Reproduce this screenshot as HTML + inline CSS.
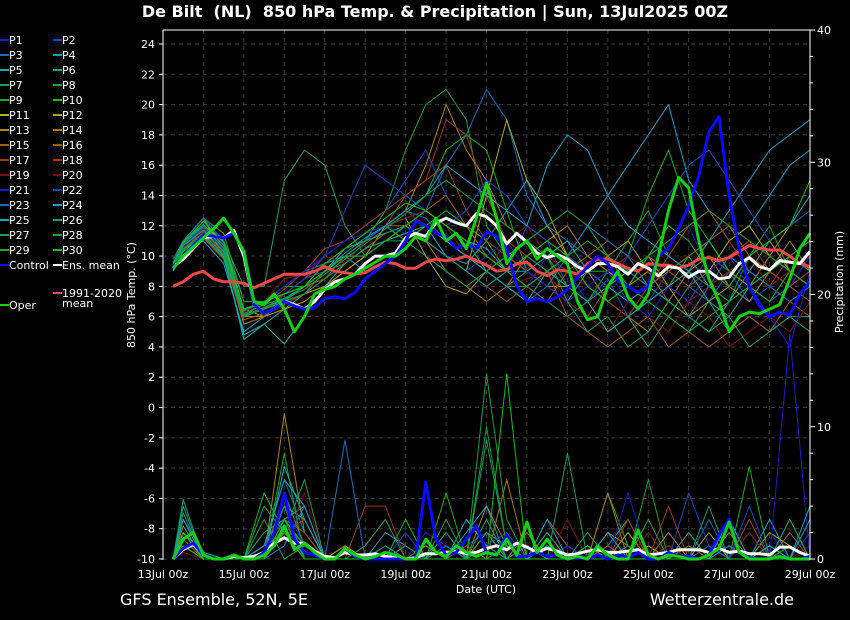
<!DOCTYPE html>
<html><head><meta charset="utf-8">
<style>
html,body{margin:0;padding:0;background:#000;}
svg{display:block;font-family:"DejaVu Sans","Liberation Sans",sans-serif;}
</style></head>
<body>
<svg id="chart" width="850" height="620" viewBox="0 0 850 620" xmlns="http://www.w3.org/2000/svg">
<rect x="0" y="0" width="850" height="620" fill="#000"/>
<text x="435" y="17" fill="#fff" font-size="16" font-weight="bold" text-anchor="middle" style="white-space:pre">De Bilt  (NL)  850 hPa Temp. &amp; Precipitation | Sun, 13Jul2025 00Z</text>
<g id="grid"></g>
<g id="series"></g>
<g id="axes"></g>
<g id="legend"></g>
<text x="135" y="295" fill="#fff" font-size="11" text-anchor="middle" transform="rotate(-90 135 295)">850 hPa Temp. (°C)</text>
<text x="843" y="282" fill="#fff" font-size="11" text-anchor="middle" transform="rotate(-90 843 282)">Precipitation (mm)</text>
<text x="486" y="593" fill="#fff" font-size="11" text-anchor="middle">Date (UTC)</text>
<text x="120" y="605" fill="#fff" font-size="16">GFS Ensemble, 52N, 5E</text>
<text x="794" y="605" fill="#fff" font-size="16" text-anchor="end">Wetterzentrale.de</text>
</svg>
<script>
const xTickLabels=["13Jul 00z","15Jul 00z","17Jul 00z","19Jul 00z","21Jul 00z","23Jul 00z","25Jul 00z","27Jul 00z","29Jul 00z"];
const yTicks=[24,22,20,18,16,14,12,10,8,6,4,2,0,-2,-4,-6,-8,-10];
const y2Ticks=[40,30,20,10,0];
const controlTemp=[9.3,10.0,10.7,11.4,11.3,11.2,11.5,10.3,6.8,6.2,6.5,7.0,6.7,6.5,6.6,7.2,7.3,7.2,7.6,8.5,9.0,9.5,10.0,11.0,12.3,12.0,11.5,11.3,10.5,10.8,10.5,11.6,11.3,10.5,8.0,7.0,7.2,7.0,7.3,7.8,8.6,9.3,10.0,9.5,8.4,8.0,7.6,8.0,10.0,10.5,11.8,13.3,15.3,18.2,19.2,14.0,10.5,8.0,6.7,6.0,6.3,6.1,7.5,8.3];
const operTemp=[9.2,10.0,10.6,11.2,11.8,12.5,11.5,10.3,7.0,6.8,7.5,6.5,5.0,6.0,7.5,7.8,8.0,8.5,8.8,9.2,9.6,10.0,10.0,10.5,11.3,11.0,12.5,11.0,11.5,10.5,12.5,14.8,12.5,9.5,10.5,11.0,9.8,10.5,10.0,9.5,7.0,5.8,6.0,8.0,9.0,7.3,6.5,7.5,10.0,13.0,15.2,14.5,11.0,8.5,7.0,5.0,6.0,6.3,6.2,6.5,6.8,8.5,10.5,11.5];
const meanTemp=[9.3,9.8,10.5,11.2,11.3,11.2,11.7,10.0,6.8,6.2,6.5,7.0,6.8,6.5,7.0,7.8,8.3,8.5,8.8,9.5,10.0,10.0,10.2,11.2,11.5,11.3,12.2,12.5,12.2,12.0,12.8,12.6,12.0,10.8,11.5,10.9,10.2,9.9,10.1,9.8,9.3,9.0,9.5,9.5,9.3,8.8,9.5,9.2,8.7,9.3,9.2,8.6,9.0,9.0,8.5,8.6,9.5,9.9,9.3,9.1,9.7,9.6,9.5,10.3];
const climTemp=[8.0,8.3,8.8,9.0,8.5,8.3,8.3,8.2,7.9,8.2,8.5,8.8,8.8,8.8,9.0,9.3,9.0,8.9,8.8,8.9,9.3,9.6,9.5,9.2,9.2,9.6,9.8,9.7,9.8,10.0,9.7,9.4,9.0,9.1,9.5,9.6,9.0,8.7,9.1,9.0,8.8,9.5,9.8,9.8,9.5,9.2,9.0,9.5,9.4,9.4,9.2,9.4,9.8,9.9,9.7,9.9,10.3,10.7,10.5,10.4,10.4,10.0,9.5,9.3];
const controlPrecip=[0,0.8,1.2,0.3,0,0,0.3,0,0,0.5,2,5,1.5,0.5,0.3,0,0,0.8,0.2,0,0,0,0,0,0,5.8,1.5,0.3,0.5,1.5,2.5,0.5,0.3,1.8,0.2,0.2,0.5,0.2,0.3,0,0.1,0,0.3,0,0.3,0.1,0.5,0,0,0.5,0.2,0.2,0,0.3,1.8,3,0.5,0.1,0,0,0.2,0,0,0.2];
const operPrecip=[0,1.5,2.0,0.3,0,0,0.3,0,0,0.3,1,2.5,0.7,1.2,0.5,0,0,0.8,0.3,0,0.2,0.5,0.3,0,0,1.5,0.5,0.2,1.0,0.5,0.2,0.5,0.3,1.5,0.3,2.8,0.5,1.5,0.3,0,0.2,0,1.0,0.3,0,0,2.2,0.3,0,0.3,0.2,0,0,0.3,0.8,2.8,0.5,0,0,0,0.2,0,0,0];
const meanPrecip=[0,0.7,1.1,0.3,0,0,0.2,0.1,0.2,0.5,1.2,1.6,1.2,1.2,0.6,0.2,0.1,0.5,0.3,0.3,0.4,0.2,0.1,0,0.1,0.4,0.4,0.5,0.6,0.4,0.5,0.8,1.0,0.7,1.2,0.9,0.5,0.8,0.6,0.3,0.4,0.6,0.7,0.5,0.5,0.6,0.7,0.3,0.4,0.5,0.7,0.7,0.7,0.5,0.8,0.5,0.6,0.4,0.4,0.3,0.9,0.9,0.5,0.2];
const memberNames=["P1","P2","P3","P4","P5","P6","P7","P8","P9","P10","P11","P12","P13","P14","P15","P16","P17","P18","P19","P20","P21","P22","P23","P24","P25","P26","P27","P28","P29","P30"];
const memberColors=["#1a1ad0","#1048c0","#1070c0","#10a0c8","#10b0b0","#10a080","#10a060","#10a040","#10b020","#10c010","#b0b000","#b8a000","#b08800","#b07800","#a06000","#a05800","#a04010","#a03810","#801010","#781010","#1a1ad0","#1048c0","#1070c0","#10a0c8","#10b0b0","#10a080","#10a060","#10a040","#10b020","#10c010"];
const memberTemp=[
[9.5,10.5,11.5,11,6,6.5,7,7.5,8.5,9.5,10.5,11,12,11,10,9,8,9,8,10,9,7,8,9,8,10,12,9,8,7,9,8,10],
[9,10,12,10,5.5,6,7.5,8.5,9,10,11,13,15,17,14,12,10,9,12,11,8,7,8.5,6,7,9,8,10,9,7,8,9,8],
[9.8,11,12.5,10.5,6,7,8,9,10,11,12,13,14,13,16,18,21,19,14,12,11,10,9,8,10,9,8,7,9,8,7,8,9],
[9.5,10.5,11,9.5,5,6,7,8,9,10,9,9.5,11,12,10,9.5,11,13,15,12,10,12,14,16,18,20,15,13,11,12,14,16,17],
[9.2,10,11.5,10,4.5,5.5,6.5,7.5,9,10.5,11.5,12,12.5,13,12,11,10.5,9,9,10,11,9,8,7,8,9,10,8,7,9,11,12,14],
[9,10.5,12,11,7,7,8,9,9.5,10,11,12,13,12,11,10,9,8,8,7,6,7,5,6,4,6,5,7,5,6,5,6,6],
[9.3,11,12,11,8,8,15,17,16,12,10,11,12,13,12,11,9,8,9,8,7,9,10,8,7,6,8,9,10,9,8,7,8],
[9.5,11,12.5,11.5,7,7,7.5,8,9,10,11,13,17,20,21,19,12,10,9,10,8,7,9,11,13,10,9,8,7,10,12,9,8],
[9.4,10.8,12.3,10.8,6.5,7,8,8,9,10,11,12,13,14,17,18,17,13,9,8,10,9,9,10,14,17,13,11,9,8,10,9,8],
[9.2,10.5,11.5,10,6,6.5,7,8,9.5,10.5,11,12,11,12,13,12,11,9,8,9,10,8,7,8,9,8,10,11,9,8,7,9,10],
[9.6,11,12,11,6.5,6,7,7.5,8,9,10,11,12,11,10,9,14,19,15,13,10,9,8,9,10,8,7,9,11,12,10,9,8],
[9.4,11,12.5,10,6,6,6.5,7,8,9,10,12,12.5,10,8,7.5,9,10,9,8,8,9,10,11,9,8,6,7,8,10,11,9,8],
[9.5,10.8,12,10.5,5.5,6,7,8,9,10,11,12,13,16,20,17,15,12,11,12,10,9,7,6,5,7,9,10,8,7,9,11,9],
[9.1,10.5,11.8,10,6,6.5,7,8,9,10,10,11,11.5,11,9,8,7,8,10,11,12,10,9,8,9,7,6,8,9,8,10,12,13],
[9.3,10.6,11.5,10,6,7,7.5,8,8.5,10,11,12,12,13,14,12,10,9,8,7,9,10,11,10,8,9,10,11,12,10,9,8,7],
[9.2,10.3,11.2,9.8,5.8,6.2,6.8,7.5,9,9.5,10.5,11.5,12,11,10,9,8,7,8,9,6,5,4,5,6,4,5,4,5,6,5,7,6],
[9.5,10.7,11.8,10.5,6,6.5,7.5,8.5,9.5,10.5,11.5,12,14,15,16,13,11,10,9,8,7,6,8,9,10,9,8,9,10,11,9,8,9],
[9.3,10.4,11.6,10.2,6.2,6.8,7.8,9,10.5,11,12,13,14,15,19,18,14,11,10,9,10,8,7,6,8,10,12,13,11,9,8,10,9],
[9.4,10.5,11.8,10.6,6.3,7,8.5,8.8,10,9.5,11,12,13,12,11,10,9,11,12,10,9,8,9,10,9,8,7,8,9,10,8,9,10],
[9.2,10.6,11.4,10.1,6,6.5,7,8,9,10,11,12,12.5,13,12,10,9,8,8.5,9,7,6,5,7,6,5,7,6,4,5,6,5,7],
[9.6,10.9,12,10.8,6.5,7,8,9,10,11,11.5,12,11.5,11,10,9,10,11,9,8,7,8,9,7,6,8,7,9,10,8,6,4,9],
[9.3,10.7,11.9,10.4,6.1,7,7.5,8.5,10,13,16,15,14,13,12,13,15,14,12,11,10,9,8,10,12,14,16,17,15,13,11,12,13],
[9.5,11,12.5,11,6,6.5,7,8,9,10,11,12,13,12.5,11,10,9,8,7,8,10,12,11,10,8,7,6,8,10,9,8,7,8],
[9.4,10.7,11.7,10.3,6.1,6.6,7.2,8,9,10.2,11.2,12,13,14,16,15,14,13,12,16,18,17,14,12,11,10,9,11,13,15,17,18,19],
[9.1,10.3,11.3,9.9,4.8,5.5,4.2,6,8,9.5,10.5,11,11.5,12,11,10,9,8,7,9,8,7,5,6,7,8,9,7,6,8,9,10,11],
[9.5,10.9,12.1,10.7,6.4,7,7.5,8,9,10,11,11.5,12,11,10,9,8,9,10,9,8,7,8,9,8,7,6,5,7,8,9,10,9],
[9.3,10.5,11.5,10,6,6.5,7,7.5,8.5,9.5,10.5,11,11,10,9,8,9,10,11,10,7,5,6,4,5,7,6,5,6,4,5,6,5],
[9.4,10.8,12,10.5,6.2,6.8,7.2,7.8,8.8,9.8,10.8,11.8,12.8,14,15,14,13,12,11,12,13,12,10,9,10,11,12,13,12,11,10,9,8],
[9.2,10.4,11.4,10.1,6.1,6.6,7.1,8,9,10,10,11,12,13,12,11,10,9,8,9,10,11,10,8,7,6,5,6,7,8,9,10,11],
[9.5,10.9,12.3,10.9,6.5,7,7.5,8,9.5,10.5,11.5,12.5,13.5,13,12,11,10,9,10,11,10,8,7,8,10,12,11,9,8,10,11,12,15]];
const memberPrecip=[
[0,1,0,0,0,1,2,0,0,0,0,1,0,2,1,0,0,1,0,3,1,0,0,2,0,1,0,0,1,0,2,0,0],
[0,2,0,0,0,2,3,1,0,0,0,0,1,0,0,1,2,0,1,0,0,1,0,0,0,0,5,1,0,0,0,0,0],
[0,3,0.5,0,0,1,6,2,0,1,0,0,0,0,2,0,1,0,0,2,0,0,0,1,0,2,0,1,0,0,1,0,0],
[0,1.5,0,0,0,0.5,4,3,0,0,0,2,1,0,0,3,1,0,2,0,1,0,0,0,2,0,0,0,1,0,3,0,0],
[0,2,0.5,0,0,0,5,1,0,0,0,0,0,1,0,0,2,1,0,0,1,0,2,0,0,1,0,0,0,2,0,1,0],
[0,4,0,0,0,0,2,1,0,0,0,0,0,0,1,0,3,0,0,1,0,0,1,3,0,0,1,0,0,0,1,0,0],
[0,1,0,0,0,2,3,4,0,0,1,3,0,0,2,0,9,1,0,0,0,2,0,0,0,1,0,4,0,0,0,1,0],
[0,3.5,0,0,0,3,0,1,0,0,0,0,0,0,0,0,14,3,0,0,0,0,0,0,6,0,0,0,0,0,0,0,0],
[0,2,0,0,0,0,8,0,0,0,0,0,0,1,0,0,0,0,0,0,0,0,5,1,0,0,2,0,0,7,0,1,0],
[0,1,0,0,0,5,2,0,0,0,0,0,3,0,0,0,0,14,0,0,0,0,0,0,0,0,0,0,0,0,0,0,0],
[0,1,0,0,0,1,2,0,0,0,0,0,0,0,0,0,2,0,1,0,0,1,0,2,0,0,0,0,0,0,2,1,0],
[0,2,0,0,0,0,3,0,0,1,0,0,0,0,1,0,0,0,0,2,0,0,0,0,1,0,0,2,0,0,0,0,0],
[0,2.5,0,0,0,0,11,2,0,0,0,0,0,0,0,0,4,1,0,0,0,0,2,1,0,0,0,0,2,0,0,0,0],
[0,1,0,0,0,1,2,1,0,0,0,0,0,0,0,0,0,6,0,1,0,0,5,0,0,2,0,0,0,0,0,3,0],
[0,1.5,0,0,0,1,4,0,0,0,0,0,0,1,0,0,1,0,2,0,0,0,1,0,0,0,1,0,0,0,0,2,0],
[0,1,0,0,0,0,3,2,0,0,0,0,0,0,0,1,0,0,0,3,1,0,0,0,0,1,0,0,0,3,0,0,0],
[0,2,0,0,0,0,2,0,0,0,0,0,1,0,0,0,2,0,0,0,0,1,0,3,0,0,0,0,0,0,0,0,0],
[0,1,0,0,0,0,2,3,0,0,4,4,0,0,0,0,1,0,1,0,0,0,0,0,0,4,0,0,0,0,0,0,0],
[0,1,0,0,0,0,1,5,0,0,0,1,0,0,0,0,2,0,0,0,0,0,0,0,2,0,0,0,0,2,0,0,1],
[0,0.5,0,0,0,0,2,1,0,0,0,0,0,0,0,0,0,1,0,0,3,0,0,0,0,1,0,0,0,0,0,0,0],
[0,2,0,0,0,0,4,1,0,0,0,0,1,0,0,0,2,0,0,0,1,0,0,5,0,0,0,0,0,0,0,17,0],
[0,1,0,0,0,1,3,0,0,0,0,0,2,0,0,0,1,2,0,0,0,0,0,0,0,0,0,0,0,4,0,0,2],
[0,2,0,0,0,0,1,4,0,9,0,0,0,0,1,0,0,0,0,0,0,1,0,0,0,0,0,3,0,0,0,0,0],
[0,3,0,0,0,1,6,4,0,0,0,0,0,0,0,2,4,0,0,3,0,0,2,0,0,0,0,0,0,0,0,0,3],
[0,2,0,0,0,0,7,3,0,0,0,0,0,0,0,0,0,0,0,1,0,0,0,0,0,0,0,0,3,0,1,0,4],
[0,4.5,0,0,0,0,4,0,0,0,0,1,0,0,0,0,1,0,0,2,0,0,0,0,0,0,2,0,0,0,0,3,0],
[0,1,0,0,0,4,2,6,0,0,0,0,1,0,3,0,0,0,1,0,8,0,0,0,3,0,0,0,0,0,0,0,0],
[0,2,0,0,0,0,3,0,0,0,0,0,0,0,0,0,10,1,0,0,0,0,0,1,0,0,0,0,0,0,0,0,0],
[0,1,0,0,0,0,2,0,0,0,0,0,0,0,5,0,0,1,0,0,0,1,0,0,0,0,0,0,0,0,0,0,0],
[0,2,0,0,0,0,3,1,0,0,0,0,0,0,0,0,2,0,0,0,0,0,0,0,0,0,0,0,0,0,0,0,0]];

const NS="http://www.w3.org/2000/svg";
const X0=163,X1=810,YT=30,YB=560;
function xDay(d){return X0+(X1-X0)*d/16;}
function yT(v){return 559-(v+10)*15.147;}
function yP(p){return 559-p*13.225;}
function mk(tag,attrs,parent){const e=document.createElementNS(NS,tag);for(const k in attrs)e.setAttribute(k,attrs[k]);parent.appendChild(e);return e;}
const grid=document.getElementById('grid'),series=document.getElementById('series'),axes=document.getElementById('axes'),legend=document.getElementById('legend');

yTicks.forEach(v=>{
  const l=mk('line',{x1:X0,x2:X1,y1:yT(v),y2:yT(v),stroke:'#3a3a3a','stroke-dasharray':'4,4'},grid);
  
  
  const t=mk('line',{x1:X0-4,x2:X0,y1:yT(v),y2:yT(v),stroke:'#fff'},axes);
  
  
  const tx=mk('text',{x:155,y:yT(v)+4,fill:'#fff','font-size':11,'text-anchor':'end'},axes);
  tx.textContent=v;
  
  
});
for(let d=1;d<16;d++){
  const l=mk('line',{x1:xDay(d),x2:xDay(d),y1:YT,y2:YB,stroke:'#3a3a3a','stroke-dasharray':'4,4'},grid);
  
  
}
xTickLabels.forEach((s,i)=>{
  const tx=mk('text',{x:xDay(i*2),y:578,fill:'#fff','font-size':11,'text-anchor':'middle'},axes);
  tx.textContent=s;
  
  
});
for(let p=0;p<=40;p+=2){
  const t=mk('line',{x1:X1,x2:X1+(p%10===0?5:3),y1:yP(p),y2:yP(p),stroke:'#fff'},axes);
  
  
}
y2Ticks.forEach(p=>{
  const tx=mk('text',{x:817,y:yP(p)+4,fill:'#fff','font-size':11},axes);
  tx.textContent=p;
  
  
});
const la=mk('line',{x1:X0,x2:X0,y1:YT,y2:YB,stroke:'#fff'},axes);


const ra=mk('line',{x1:X1,x2:X1,y1:YT,y2:YB,stroke:'#fff'},axes);


const ta=mk('line',{x1:X0,x2:X1,y1:YT,y2:YT,stroke:'#fff'},axes);



function poly(vals,dayFn,yFn,color,w,name){
  const pts=vals.map((v,i)=>xDay(dayFn(i)).toFixed(1)+','+yFn(v).toFixed(1)).join(' ');
  const p=mk('polyline',{points:pts,fill:'none',stroke:color,'stroke-width':w,'stroke-linejoin':'round'},series);
  
  
}
const memDay=i=>i===0?0.25:i*0.5;
const sixDay=i=>0.25*(i+1);
memberTemp.forEach((a,k)=>poly(a,memDay,yT,memberColors[k],1,'temp-line-'+memberNames[k].toLowerCase()));
memberPrecip.forEach((a,k)=>poly(a,memDay,yP,memberColors[k],1,'precip-line-'+memberNames[k].toLowerCase()));
poly(climTemp,sixDay,yT,'#f04848',3,'temp-line-climate-mean');
poly(meanPrecip,sixDay,yP,'#ffffff',3,'precip-line-ens-mean');
poly(meanTemp,sixDay,yT,'#ffffff',3,'temp-line-ens-mean');
poly(controlPrecip,sixDay,yP,'#0a0aff',3,'precip-line-control');
poly(controlTemp,sixDay,yT,'#0a0aff',3,'temp-line-control');
poly(operPrecip,sixDay,yP,'#10d010',3,'precip-line-oper');
poly(operTemp,sixDay,yT,'#10d010',3,'temp-line-oper');

function legendItem(x,y,color,label,name){
  const g=mk('g',{},legend);
  
  
  mk('line',{x1:x,x2:x+9,y1:y,y2:y,stroke:color,'stroke-width':2},g);
  const t=mk('text',{x:x+9,y:y+4,fill:'#fff','font-size':11},g);
  t.textContent=label;
  return t;
}
memberNames.forEach((n,k)=>{
  const col=k%2,row=Math.floor(k/2);
  legendItem(col?53:0,40+row*15,memberColors[k],n,'legend-entry-'+n.toLowerCase());
});
legendItem(0,265,'#0a0aff','Control','legend-entry-control');
legendItem(53,265,'#ffffff','Ens. mean','legend-entry-ens-mean');
legendItem(53,293,'#f04848','1991-2020','legend-entry-climate-mean');
const ct2=mk('text',{x:62,y:307,fill:'#fff','font-size':11},legend);
ct2.textContent='mean';


legendItem(0,305,'#10d010','Oper','legend-entry-oper');
</script>
</body></html>
